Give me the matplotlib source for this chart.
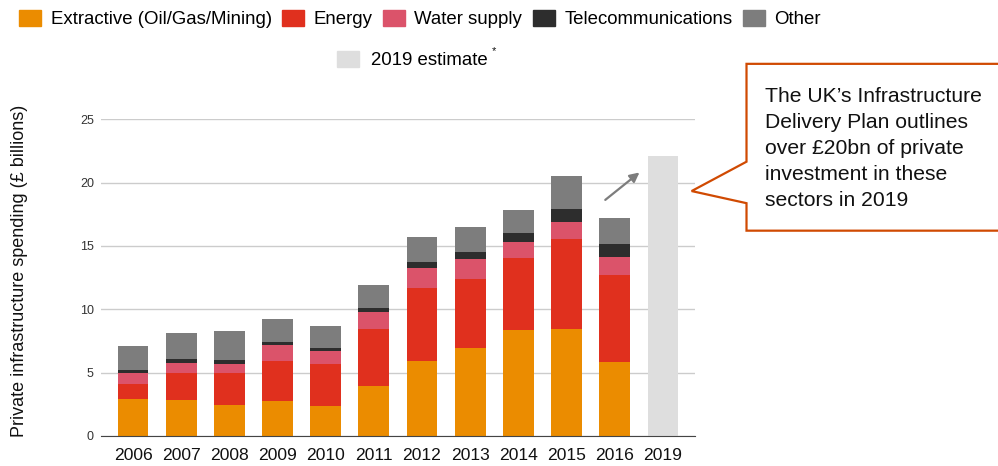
import matplotlib
matplotlib.use("Agg")
import matplotlib.pyplot as plt
import numpy as np
from matplotlib.patches import Patch, Polygon

plt.rcParams['font.family'] = ['Liberation Sans', 'DejaVu Sans']

years = ['2006', '2007', '2008', '2009', '2010', '2011',
         '2012', '2013', '2014', '2015', '2016']
extractive = [2.92, 2.84, 2.42, 2.76, 2.34, 3.97, 5.92, 6.95, 8.39, 8.47, 5.84]
energy     = [1.18, 2.13, 2.55, 3.16, 3.32, 4.50, 5.79, 5.44, 5.64, 7.08, 6.90]
water      = [0.90, 0.77, 0.69, 1.29, 1.02, 1.29, 1.53, 1.56, 1.26, 1.37, 1.36]
telecom    = [0.21, 0.36, 0.34, 0.18, 0.27, 0.34, 0.52, 0.58, 0.71, 1.03, 1.03]
other      = [1.89, 2.03, 2.32, 1.85, 1.71, 1.80, 1.98, 1.97, 1.87, 2.55, 2.05]
est_year = '2019'
est_value = 22.1

series = [('Extractive (Oil/Gas/Mining)', extractive, '#EB8C00'),
          ('Energy', energy, '#E0301E'),
          ('Water supply', water, '#DB536A'),
          ('Telecommunications', telecom, '#2D2D2D'),
          ('Other', other, '#7D7D7D')]
est_color = '#DEDEDE'

fig = plt.figure(figsize=(9.98, 4.66), dpi=100)
ax = fig.add_axes([0.101, 0.0644, 0.595, 0.6796])

x = np.arange(len(years))
bottom = np.zeros(len(years))
for name, vals, col in series:
    ax.bar(x, vals, 0.64, bottom=bottom, color=col, zorder=3)
    bottom += np.array(vals)
ax.bar(len(years), est_value, 0.61, color=est_color, zorder=3)

ax.set_xticks(list(x) + [len(years)])
ax.set_xticklabels(years + [est_year], fontsize=12.6, color='#111111')
ax.set_xlim(-0.67, 11.66)
ax.set_ylim(0, 25)
ax.set_yticks([0, 5, 10, 15, 20, 25])
ax.tick_params(axis='y', length=0, labelsize=9, pad=5, labelcolor='#333333')
ax.tick_params(axis='x', length=0, pad=9)
ax.grid(axis='y', color='#CCCCCC', lw=1, zorder=0)
for s in ['top', 'right', 'left']:
    ax.spines[s].set_visible(False)
ax.spines['bottom'].set_color('#444444')
ax.spines['bottom'].set_zorder(4)
ax.set_ylabel('Private infrastructure spending (£ billions)', fontsize=13,
              color='#111111')
ax.yaxis.set_label_coords(-0.122, 0.52)

# arrow towards the 2019 estimate
ax.annotate('', xy=(10.56, 20.94), xytext=(9.76, 18.5),
            arrowprops=dict(arrowstyle='-|>', color='#7D7D7D', lw=1.6,
                            mutation_scale=14), zorder=5)

# legend rows
handles = [Patch(color=col, label=name) for name, vals, col in series]
fig.legend(handles=handles, loc='center left', bbox_to_anchor=(0.019, 0.959),
           ncol=5, frameon=False, fontsize=13.4, borderpad=0, borderaxespad=0,
           handlelength=1.2, handleheight=0.92, handletextpad=0.5,
           columnspacing=0.55)
fig.legend(handles=[Patch(color=est_color, label='2019 estimate')],
           loc='center left', bbox_to_anchor=(0.3377, 0.871), frameon=False,
           fontsize=13.4, borderpad=0, borderaxespad=0, handlelength=1.2,
           handleheight=0.92, handletextpad=0.6)
fig.text(0.4925, 0.885, '*', fontsize=8, color='#111111')

# callout box
pts = [(0.748, 0.863), (1.01, 0.863), (1.01, 0.505), (0.748, 0.505),
       (0.748, 0.564), (0.693, 0.590), (0.748, 0.653)]
fig.patches.append(Polygon(pts, closed=True, transform=fig.transFigure,
                           facecolor='white', edgecolor='#D04A02', lw=1.6))
fig.text(0.767, 0.682,
         'The UK\u2019s Infrastructure\nDelivery Plan outlines\n'
         'over £20bn of private\ninvestment in these\nsectors in 2019',
         fontsize=15.2, va='center', ha='left', linespacing=1.47,
         color='#111111')

fig.savefig('out.png', dpi=100)
